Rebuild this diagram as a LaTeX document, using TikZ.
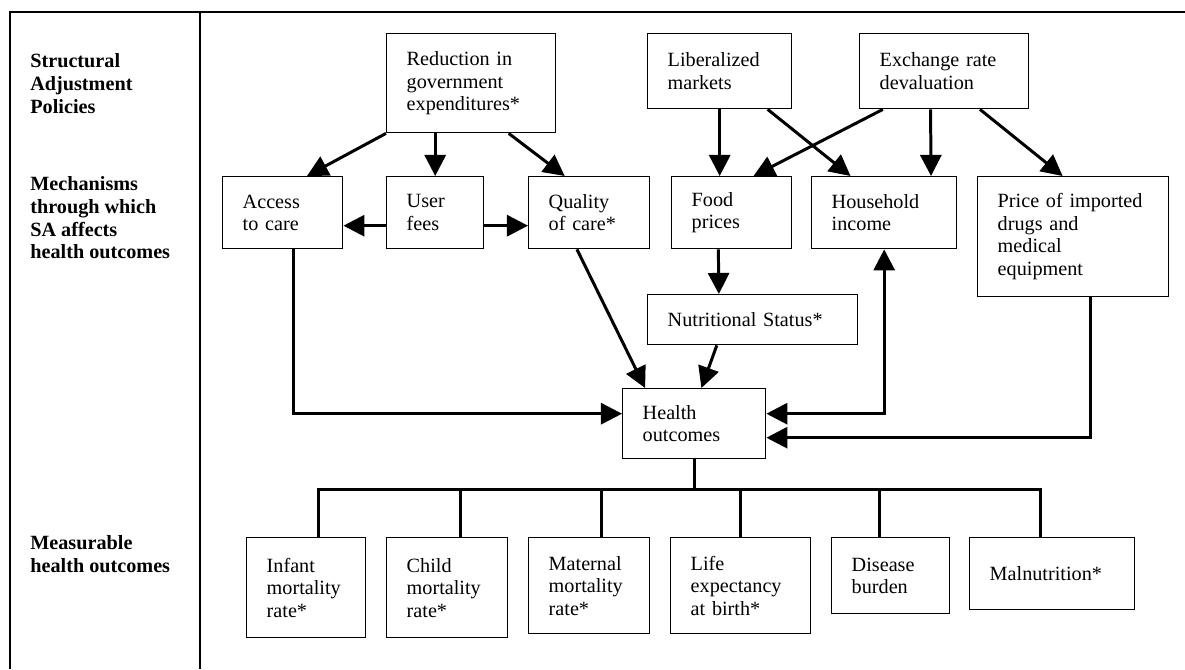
\documentclass[tikz,border=0pt]{standalone}
\usepackage{fontspec}
\setmainfont{Liberation Serif}
\usetikzlibrary{arrows.meta,calc}

\begin{document}
\begin{tikzpicture}[x=0.02cm,y=-0.02cm,
    >={Triangle[length=12pt,width=12pt]},
    blk/.style={draw,line width=0.8pt,anchor=north west,align=left,inner xsep=0.4cm,inner ysep=0pt,font=\fontsize{11.5}{12.8}\selectfont},
    lvl/.style={anchor=north west,align=left,inner sep=0pt,font=\fontsize{11.5}{13}\selectfont\bfseries},
    link/.style={line width=1.7pt},
    arr/.style={link,->}]
    \useasboundingbox (0,0) rectangle (1185,669);
    % frame
    \draw[line width=1pt] (10,669) -- (10,12) -- (1185,12);
    \draw[line width=1pt] (200,12) -- (200,669);
    % levels
    \node[lvl] (sap) at (30,53) {Structural\\Adjustment\\Policies};
    \node[lvl] (mech) at (30,176) {Mechanisms\\through which\\SA affects\\health outcomes};
    \node[lvl] (meas) at (30,535) {Measurable\\health outcomes};
    % policies
    \node[blk,text width=2.58cm,minimum height=1.98cm] (red) at (386,33) {Reduction in\\government\\expenditures*};
    \node[blk,text width=2.08cm,minimum height=1.5cm] (lib) at (647,33) {Liberalized\\markets};
    \node[blk,text width=2.58cm,minimum height=1.5cm] (exr) at (859,33) {Exchange rate\\devaluation};
    % mechanisms
    \node[blk,text width=1.6cm,minimum height=1.44cm] (acc) at (222,176) {Access\\to care};
    \node[blk,text width=1.14cm,minimum height=1.44cm] (fee) at (386,176) {User\\fees};
    \node[blk,text width=1.62cm,minimum height=1.44cm] (qual) at (528,176) {Quality\\of care*};
    \node[blk,text width=1.6cm,minimum height=1.44cm] (food) at (671,176) {Food\\prices};
    \node[blk,text width=2.1cm,minimum height=1.44cm] (hinc) at (811,176) {Household\\income};
    \node[blk,text width=3.02cm,minimum height=2.4cm] (drug) at (977,176) {Price of imported\\drugs and\\medical\\equipment};
    \node[blk,text width=3.4cm,minimum height=1cm] (nutr) at (647,294) {Nutritional Status*};
    \node[blk,text width=2.06cm,minimum height=1.4cm] (hout) at (622,388) {Health\\outcomes};
    % outcomes
    \node[blk,text width=1.58cm,minimum height=2cm] (inf) at (246,537) {Infant\\mortality\\rate*};
    \node[blk,text width=1.62cm,minimum height=2cm] (chi) at (386,537) {Child\\mortality\\rate*};
    \node[blk,text width=1.62cm,minimum height=1.92cm] (mat) at (528,537) {Maternal\\mortality\\rate*};
    \node[blk,text width=2.0cm,minimum height=1.92cm] (life) at (670,537) {Life\\expectancy\\at birth*};
    \node[blk,text width=1.56cm,minimum height=1.52cm] (dis) at (831,537) {Disease\\burden};
    \node[blk,text width=2.5cm,minimum height=1.44cm] (mal) at (969,537) {Malnutrition*};
    % arrows
    \draw[arr] (red.south west) -- ($(acc.north west)!0.7!(acc.north east)$);
    \draw[arr] (red.south -| fee.north) -- (fee.north);
    \draw[arr] ($(red.south west)!0.72!(red.south east)$) -- ($(qual.north west)!0.3!(qual.north east)$);
    \draw[arr] ([yshift=-0.26cm]fee.west) -- ([yshift=-0.26cm]acc.east);
    \draw[arr] ([yshift=-0.26cm]fee.east) -- ([yshift=-0.26cm]qual.west);
    \draw[arr] (lib.south) -- (lib.south |- food.north);
    \draw[arr] ($(lib.south west)!0.83!(lib.south east)$) -- ($(hinc.north west)!0.27!(hinc.north east)$);
    \draw[arr] ($(exr.south west)!0.14!(exr.south east)$) -- ($(food.north west)!0.68!(food.north east)$);
    \draw[arr] ($(exr.south west)!0.42!(exr.south east)$) -- ($(hinc.north west)!0.82!(hinc.north east)$);
    \draw[arr] ($(exr.south west)!0.71!(exr.south east)$) -- ($(drug.north west)!0.445!(drug.north east)$);
    \draw[arr] ($(food.south west)!0.39!(food.south east)$) -- ($(nutr.north west)!0.34!(nutr.north east)$);
    \draw[arr] ($(qual.south west)!0.4!(qual.south east)$) -- ($(hout.north west)!0.16!(hout.north east)$);
    \draw[arr] ($(nutr.south west)!0.33!(nutr.south east)$) -- ($(hout.north west)!0.55!(hout.north east)$);
    \draw[arr] ($(acc.south west)!0.59!(acc.south east)$) |- ([yshift=0.2cm]hout.west);
    \draw[link,<->] ([yshift=0.2cm]hout.east) -| (hinc.south);
    \draw[arr] ($(drug.south west)!0.59!(drug.south east)$) |- ([yshift=-0.28cm]hout.east);
    % tree to measurable outcomes
    \coordinate (bus) at (693.5,489);
    \draw[link] (hout.south) -- (hout.south |- bus);
    \foreach \bx/\f in {inf/0.6,chi/0.61,mat/0.6,life/0.5,dis/0.41,mal/0.43}
        \draw[link] ($(\bx.north west)!\f!(\bx.north east)$) |- (bus);
\end{tikzpicture}
\end{document}
